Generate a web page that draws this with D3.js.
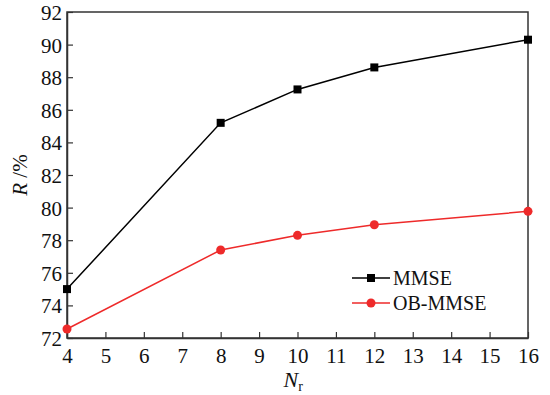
<!DOCTYPE html>
<html>
<head>
<meta charset="utf-8">
<script src="https://cdn.jsdelivr.net/npm/d3@7"></script>
<style>
  body { margin: 0; background: #fff; }
  #main-chart svg text, #main-chart svg tspan { font-family: "Liberation Serif" !important; }
</style>
</head>
<body>
<div id="main-chart"></div>
<script>
// Chart data
var xValues = [4, 8, 10, 12, 16];
var mmse = [75.0, 85.2, 87.25, 88.6, 90.3];
var obMmse = [72.55, 77.4, 78.3, 78.95, 79.77];
var xTicks = [4, 5, 6, 7, 8, 9, 10, 11, 12, 13, 14, 15, 16];
var yTicks = [72, 74, 76, 78, 80, 82, 84, 86, 88, 90, 92];
var seriesNames = ["MMSE", "OB-MMSE"];

var fontName = "Liberation Serif";

var margin = { top: 12, right: 22, bottom: 57, left: 67 },
  width = 550 - margin.left - margin.right,
  height = 395 - margin.top - margin.bottom;

var xScale = d3.scaleLinear().domain([4, 16]).range([0, width]);
var yScale = d3.scaleLinear().domain([72, 92]).range([height, 0]);

var svg = d3
  .select("#main-chart")
  .append("svg")
  .attr("width", 550)
  .attr("height", 395)
  .style("font-family", fontName, "important")
  .append("g")
  .attr("transform", "translate(" + margin.left + "," + margin.top + ")");

// Frame
svg
  .append("rect")
  .attr("width", width)
  .attr("height", height)
  .attr("fill", "none")
  .attr("stroke", "#333")
  .attr("stroke-width", 1.5);

// x axis, ticks pointing inward
var xAxis = svg
  .append("g")
  .attr("transform", "translate(0," + height + ")")
  .call(d3.axisBottom(xScale).tickValues(xTicks).tickSizeInner(-6).tickSizeOuter(0).tickPadding(10));
xAxis.attr("font-family", fontName).attr("font-size", 21);
xAxis.select(".domain").attr("stroke", "#333").attr("stroke-width", 1.5);
xAxis.selectAll(".tick line").attr("stroke", "#333").attr("stroke-width", 1.2);
xAxis.selectAll("text").attr("fill", "#111").style("font-family", fontName, "important");

// y axis, ticks pointing inward
var yAxis = svg
  .append("g")
  .call(d3.axisLeft(yScale).tickValues(yTicks).tickSizeInner(-6).tickSizeOuter(0).tickPadding(5));
yAxis.attr("font-family", fontName).attr("font-size", 21);
yAxis.select(".domain").attr("stroke", "#333").attr("stroke-width", 1.5);
yAxis.selectAll(".tick line").attr("stroke", "#333").attr("stroke-width", 1.2);
yAxis.selectAll("text").attr("fill", "#111").attr("dy", "0.36em").style("font-family", fontName, "important");

// Lines
var lineGenerator = d3
  .line()
  .x(function(d, i) { return xScale(xValues[i]); })
  .y(function(d) { return yScale(d); });

svg
  .append("path")
  .datum(mmse)
  .attr("fill", "none")
  .attr("stroke", "#000")
  .attr("stroke-width", 1.5)
  .attr("d", lineGenerator);

svg
  .append("path")
  .datum(obMmse)
  .attr("fill", "none")
  .attr("stroke", "#ee2a2a")
  .attr("stroke-width", 1.5)
  .attr("d", lineGenerator);

// Markers
svg
  .selectAll(".dot-mmse")
  .data(mmse)
  .enter()
  .append("rect")
  .attr("class", "dot-mmse")
  .attr("x", function(d, i) { return xScale(xValues[i]) - 4; })
  .attr("y", function(d) { return yScale(d) - 4; })
  .attr("width", 8)
  .attr("height", 8)
  .attr("fill", "#000");

svg
  .selectAll(".dot-ob")
  .data(obMmse)
  .enter()
  .append("circle")
  .attr("class", "dot-ob")
  .attr("cx", function(d, i) { return xScale(xValues[i]); })
  .attr("cy", function(d) { return yScale(d); })
  .attr("r", 4.5)
  .attr("fill", "#ee2a2a");

// Legend
var legend = svg.append("g").attr("transform", "translate(285,266)");
var colors = ["#000", "#ee2a2a"];
seriesNames.forEach(function(name, i) {
  var g = legend.append("g").attr("transform", "translate(0," + i * 25 + ")");
  g.append("line")
    .attr("x1", 0).attr("x2", 38)
    .attr("stroke", colors[i]).attr("stroke-width", 1.5);
  if (i === 0) {
    g.append("rect").attr("x", 15).attr("y", -4).attr("width", 8).attr("height", 8).attr("fill", colors[i]);
  } else {
    g.append("circle").attr("cx", 19).attr("r", 4.5).attr("fill", colors[i]);
  }
  g.append("text")
    .attr("x", 41)
    .attr("dy", "0.35em")
    .attr("font-size", 20)
    .attr("fill", "#111")
    .style("font-family", fontName, "important")
    .text(name);
});

// Axis labels
var xl = svg
  .append("text")
  .attr("x", xScale(10) - 14)
  .attr("y", height + 49)
  .attr("font-size", 22)
  .attr("fill", "#111")
  .style("font-family", fontName, "important");
xl.append("tspan").attr("font-style", "italic").text("N");
xl.append("tspan").attr("dy", 4).attr("font-size", 14).text("r");

var yl = svg
  .append("text")
  .attr("transform", "translate(" + (-40) + "," + height / 2 + ") rotate(-90)")
  .attr("text-anchor", "middle")
  .attr("font-size", 21)
  .attr("fill", "#111")
  .style("font-family", fontName, "important");
yl.append("tspan").attr("font-style", "italic").text("R");
yl.append("tspan").text(" /%");
</script>
</body>
</html>
